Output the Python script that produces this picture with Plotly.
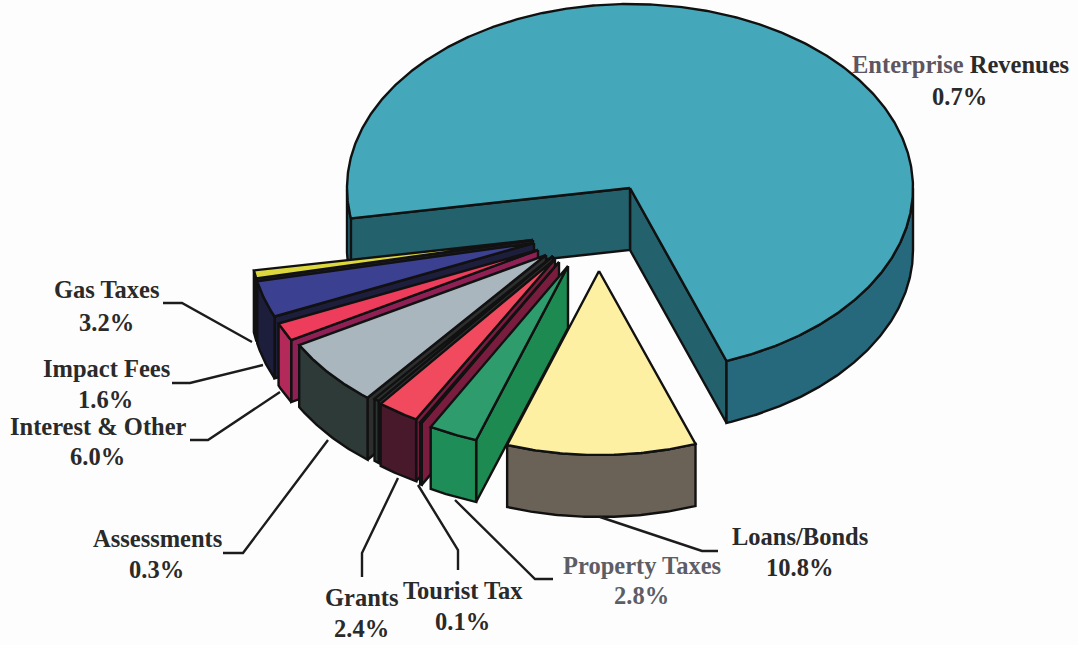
import numpy as np
import plotly.graph_objects as go

# ---- data ----
slice_names = ["Enterprise Revenues", "Loans/Bonds", "Property Taxes", "Tourist Tax", "Grants",
               "Assessments", "Interest & Other", "Impact Fees", "Gas Taxes", "Unlabelled"]
slice_shares = [72.1, 10.8, 2.8, 0.1, 2.4, 0.3, 6.0, 1.6, 3.2, 0.7]
label_names = ["Enterprise Revenues", "Loans/Bonds", "Property Taxes", "Tourist Tax", "Grants",
               "Assessments", "Interest & Other", "Impact Fees", "Gas Taxes"]
label_percents = ["0.7%", "10.8%", "2.8%", "0.1%", "2.4%", "0.3%", "6.0%", "1.6%", "3.2%"]

# ---- styling / layout ----
W, H = 1078, 645
RX, RY, DEPTH = 283, 184, 62
START = 279.5
apex = [(630, 188), (599, 271), (568, 266), (559, 262), (555, 259),
        (553, 256), (546, 255), (538, 250), (534, 243), (533, 240)]
top_col = ["#45a8ba", "#fdf0a2", "#2f9c6e", "#7a1c3e", "#f1495e",
           "#2c302f", "#a9b6be", "#ee3c5c", "#3b4090", "#dcd83e"]
wall_col = ["#27697c", "#6a6157", "#1f8d58", "#4a1a2a", "#47192b",
            "#2b3532", "#2e3a38", "#b3295a", "#1d1d3c", "#20202a"]
face_col = ["#23616c", "#6a6157", "#1d8a52", "#7a1c3e", "#7a1c3e",
            "#2c302f", "#2c2f2e", "#8f2055", "#1d1d3c", "#20202a"]
ink = "#111111"
label_xy = [(960, 64, 96), (800, 536, 567), (642, 565, 595), (463, 590, 621), (362, 597, 628),
            (157, 538, 569), (98, 426, 456), (106, 368, 399), (107, 289, 322)]
label_col = ["#2a2a2a", "#2a2a2a", "#5d5d66", "#2a2a2a", "#2a2a2a",
             "#2a2a2a", "#2a2a2a", "#2a2a2a", "#2a2a2a"]
leaders = [None,
           [(718, 551), (702, 551), (600, 517)],
           [(553, 579), (535, 579), (455, 500)],
           [(458, 570), (458, 550), (418, 485)],
           [(362, 577), (362, 553), (398, 478)],
           [(223, 553), (243, 553), (328, 440)],
           [(190, 440), (208, 440), (280, 392)],
           [(172, 383), (190, 383), (263, 365)],
           [(163, 303), (182, 303), (252, 342)]]

fig = go.Figure()


def poly(xs, ys, fill):
    fig.add_trace(go.Scatter(x=list(xs) + [xs[0]], y=list(ys) + [ys[0]], mode="lines", fill="toself",
                             fillcolor=fill, line=dict(color=ink, width=2.4), hoverinfo="skip",
                             showlegend=False))


def rim(c, deg):
    t = np.radians(deg)
    return c[0] + RX * np.sin(t), c[1] + RY * np.cos(t)


def draw_slice(c, a, b, top, wall, face):
    # radial cut faces
    for ang, vis in ((a, np.sin(np.radians(a)) > 0), (b, np.sin(np.radians(b)) < 0)):
        if vis:
            x, y = rim(c, ang)
            poly([c[0], x, x, c[0]], [c[1], y, y + DEPTH, c[1] + DEPTH], face)
    # outer wall: only the front half of the rim
    ts = np.arange(a, b, 0.5)
    ts = np.append(ts, b)
    front = ts[np.cos(np.radians(ts)) >= -1e-9]
    if front.size > 1:
        breaks = np.where(np.diff(front) > 1)[0] + 1
        for seg in np.split(front, breaks):
            if seg.size > 1:
                x, y = rim(c, seg)
                poly(np.r_[x, x[::-1]], np.r_[y, (y + DEPTH)[::-1]], wall)
    # top face
    x, y = rim(c, ts)
    poly(np.r_[c[0], x], np.r_[c[1], y], top)


# slices run clockwise on the page from the left end of the big slice
angle = START
spans = []
for s in slice_shares:
    spans.append((angle - s * 3.6, angle))
    angle -= s * 3.6

for i in [0, 9, 8, 7, 6, 5, 4, 3, 2, 1]:
    a, b = spans[i]
    draw_slice(apex[i], a, b, top_col[i], wall_col[i], face_col[i])

shapes = []
for pts in leaders:
    if pts:
        path = "M " + " L ".join(f"{px},{py}" for px, py in pts)
        shapes.append(dict(type="path", path=path, line=dict(color="#1c1c1c", width=2.4), layer="above"))

font = "Liberation Serif"
anns = []
for name, pct, (x, y1, y2), col in zip(label_names, label_percents, label_xy, label_col):
    if name == "Enterprise Revenues":
        txt = '<b><span style="color:#5d5560">Enterprise</span> Revenues</b>'
    else:
        txt = f"<b>{name}</b>"
    anns.append(dict(x=x, y=y1, text=txt, showarrow=False, xanchor="center", yanchor="middle",
                     font=dict(family=font, size=24.5, color=col), xref="x", yref="y"))
    anns.append(dict(x=x - 1, y=y2, text=f"<b>{pct}</b>", showarrow=False, xanchor="center", yanchor="middle",
                     font=dict(family=font, size=24.5, color=col), xref="x", yref="y"))

fig.update_layout(
    width=W, height=H, margin=dict(l=0, r=0, t=0, b=0),
    paper_bgcolor="#fdfdfd", plot_bgcolor="#fdfdfd",
    xaxis=dict(range=[0, W], visible=False, fixedrange=True),
    yaxis=dict(range=[H, 0], visible=False, fixedrange=True),
    shapes=shapes, annotations=anns, showlegend=False,
)
fig.write_html("out.html", config=dict(displayModeBar=False),
               post_script="document.body.style.margin='0';document.body.style.overflow='hidden';")
